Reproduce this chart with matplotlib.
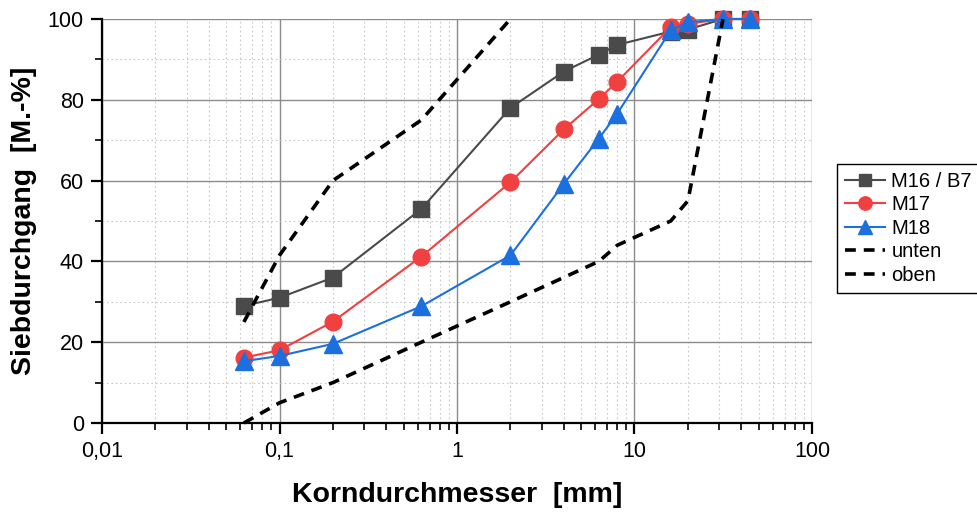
import numpy as np
import matplotlib
matplotlib.use('Agg')
import matplotlib.pyplot as plt
from matplotlib.ticker import FixedLocator, FixedFormatter, LogLocator, MultipleLocator, NullFormatter

plt.rcParams['font.family'] = ['Liberation Sans', 'DejaVu Sans']

# Siebweiten [mm]
sieb = [0.063, 0.1, 0.2, 0.63, 2, 4, 6.3, 8, 16, 20, 31.5, 45]

m16_b7 = [29.0, 31.0, 36.0, 53.0, 78.0, 87.0, 91.2, 93.6, 96.9, 97.4, 100, 100]
m17 = [16.2, 18.0, 25.1, 41.2, 59.6, 72.7, 80.2, 84.5, 98.0, 98.8, 100, 100]
m18 = [15.3, 16.6, 19.6, 28.9, 41.5, 59.2, 70.4, 76.6, 97.2, 99.2, 100, 100]

unten_x = [0.063, 0.1, 0.2, 0.63, 2, 6.3, 8, 16, 20, 31.5]
unten_y = [0, 5, 10, 20, 30, 40, 44, 50, 55, 100]
oben_x = [0.063, 0.1, 0.2, 0.63, 2]
oben_y = [25, 41.5, 60, 75, 100]

x_ticks = [0.01, 0.1, 1, 10, 100]
x_labels = ['0,01', '0,1', '1', '10', '100']

fig = plt.figure(figsize=(9.78, 5.15), dpi=100)
ax = fig.add_axes([102 / 978, 92 / 515, 710 / 978, 404 / 515])

ax.plot(sieb, m16_b7, '-s', color='#4a4a4a', lw=1.5, ms=11.5, label='M16 / B7', zorder=3, clip_on=False)
ax.plot(sieb, m17, '-o', color='#f04040', lw=1.5, ms=12, label='M17', zorder=4, clip_on=False)
ax.plot(sieb, m18, '-^', color='#1c6fdf', lw=1.5, ms=12.5, label='M18', zorder=5, clip_on=False)
ax.plot(unten_x, unten_y, '--', color='black', lw=2.6, dashes=(3, 2.2), label='unten', zorder=6, clip_on=False)
ax.plot(oben_x, oben_y, '--', color='black', lw=2.6, dashes=(3, 2.2), label='oben', zorder=6, clip_on=False)

ax.set_xscale('log')
ax.set_xlim(0.01, 100)
ax.set_ylim(0, 100)

ax.xaxis.set_major_locator(FixedLocator(x_ticks))
ax.xaxis.set_major_formatter(FixedFormatter(x_labels))
ax.xaxis.set_minor_locator(LogLocator(base=10, subs=np.arange(2, 10)))
ax.xaxis.set_minor_formatter(NullFormatter())
ax.yaxis.set_major_locator(MultipleLocator(20))
ax.yaxis.set_minor_locator(MultipleLocator(10))

ax.grid(which='major', color='#8c8c8c', lw=1.0, ls='-')
ax.grid(which='minor', color='#c8c8c8', lw=0.8, ls=(0, (1.5, 2.5)))
ax.set_axisbelow(True)

for s in ['top', 'right']:
    ax.spines[s].set_visible(False)
for s in ['left', 'bottom']:
    ax.spines[s].set_linewidth(1.6)

ax.tick_params(which='major', direction='out', length=8, width=1.6, labelsize=15.5, pad=5)
ax.tick_params(which='minor', direction='out', length=5, width=1.2)

ax.set_xlabel('Korndurchmesser  [mm]', fontsize=20.5, fontweight='bold')
ax.set_ylabel('Siebdurchgang  [M.-%]', fontsize=20.5, fontweight='bold')
ax.xaxis.set_label_coords(0.5, -72 / 404, transform=ax.transAxes)
ax.yaxis.set_label_coords(-78 / 710, 0.5, transform=ax.transAxes)
ax.xaxis.label.set_va('center')
ax.yaxis.label.set_va('center')

leg = ax.legend(loc='upper left', bbox_to_anchor=(837 / 978, (515 - 164) / 515), bbox_transform=fig.transFigure,
                fontsize=14.5, frameon=True, fancybox=False, edgecolor='black', framealpha=1,
                handlelength=2.0, handletextpad=0.3, labelspacing=0.22, borderpad=0.4,
                borderaxespad=0, markerscale=0.8)
leg.get_frame().set_linewidth(1.0)

fig.savefig('out.png', dpi=100)
